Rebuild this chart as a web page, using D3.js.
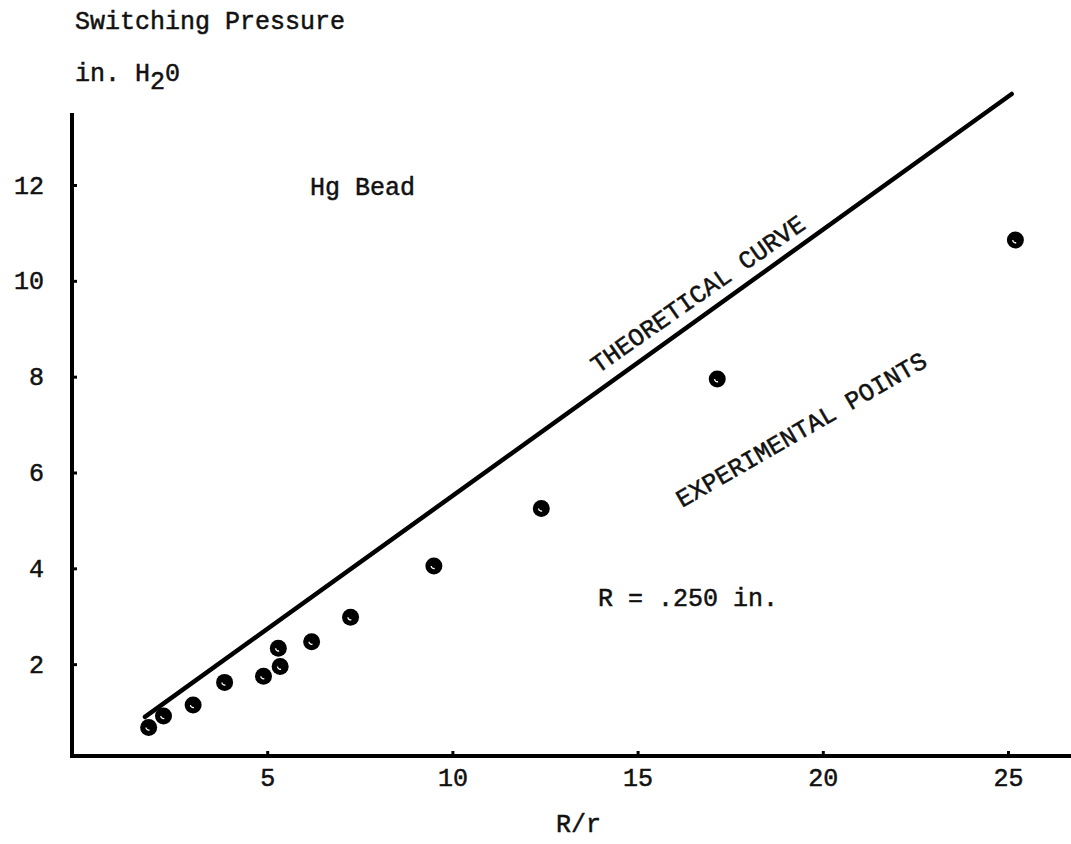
<!DOCTYPE html>
<html>
<head>
<meta charset="utf-8">
<script src="https://cdn.jsdelivr.net/npm/d3@7"></script>
<style>
  html, body { margin: 0; padding: 0; background: #fff; }
  body { width: 1071px; height: 844px; overflow: hidden; }
  text { font-family: "Liberation Mono", "DejaVu Sans Mono", monospace; fill: #111; }
</style>
</head>
<body>
<script>
const width = 1071;
const height = 844;

// experimental points
const ratioR = [1.8, 2.2, 3.0, 3.85, 4.9, 5.35, 5.3, 6.2, 7.25, 9.5, 12.4, 17.15, 25.2];
const pressure = [0.68, 0.92, 1.15, 1.62, 1.75, 1.95, 2.33, 2.47, 2.98, 4.05, 5.25, 7.95, 10.85];

// theoretical curve (straight line end points)
const theoryX = [1.7, 25.1];
const theoryY = [0.9, 13.9];

const xTicks = [5, 10, 15, 20, 25];
const yTicks = [2, 4, 6, 8, 10, 12];

const x = d3.scaleLinear().domain([0, 25]).range([82, 1008]);
const y = d3.scaleLinear().domain([0, 12]).range([760, 185]);

const axisX = 72;   // left edge of plot
const axisY = 756;  // bottom edge of plot

const svg = d3.create("svg")
  .attr("width", width)
  .attr("height", height)
  .attr("viewBox", [0, 0, width, height]);

svg.append("rect").attr("width", width).attr("height", height).attr("fill", "#fff");

// axes lines
svg.append("line")
  .attr("x1", axisX).attr("x2", axisX)
  .attr("y1", 113).attr("y2", axisY + 2)
  .attr("stroke", "#000").attr("stroke-width", 4);
svg.append("line")
  .attr("x1", axisX - 2).attr("x2", width)
  .attr("y1", axisY).attr("y2", axisY)
  .attr("stroke", "#000").attr("stroke-width", 4);

const gy = svg.append("g")
  .attr("transform", `translate(${axisX},0)`)
  .call(d3.axisLeft(y).tickValues(yTicks).tickSize(-5).tickPadding(28));
const gx = svg.append("g")
  .attr("transform", `translate(0,${axisY})`)
  .call(d3.axisBottom(x).tickValues(xTicks).tickSize(-5).tickPadding(12));

[gx, gy].forEach(g => {
  g.select(".domain").remove();
  g.selectAll(".tick line").attr("stroke", "#000").attr("stroke-width", 3);
  g.selectAll(".tick text")
    .attr("font-size", 25)
    .attr("font-family", "Liberation Mono, monospace")
    .attr("fill", "#111")
    .attr("stroke", "#111")
    .attr("stroke-width", 0.5);
});

// theoretical line
const line = d3.line().x(d => x(d[0])).y(d => y(d[1]));
svg.append("path")
  .datum(d3.zip(theoryX, theoryY))
  .attr("d", line)
  .attr("fill", "none")
  .attr("stroke", "#000")
  .attr("stroke-width", 4.5)
  .attr("stroke-linecap", "round");

// experimental points
const pts = svg.append("g")
  .selectAll("g")
  .data(d3.zip(ratioR, pressure))
  .join("g")
  .attr("transform", d => `translate(${x(d[0])},${y(d[1])})`);
pts.append("circle").attr("r", 8.5).attr("fill", "#000");
const nick = d3.arc().innerRadius(2).outerRadius(3.3).startAngle(Math.PI * 0.9).endAngle(Math.PI * 1.5);
pts.append("path").attr("d", nick()).attr("fill", "#fff");

// labels
const label = (txt, px, py, rot) => svg.append("text")
  .attr("transform", `translate(${px},${py}) rotate(${rot || 0})`)
  .attr("font-size", 25)
  .attr("stroke", "#111").attr("stroke-width", 0.5)
  .text(txt);

label("Switching Pressure", 75, 29);
const unit = label("in. H", 75, 81);
unit.append("tspan").attr("dy", 8).text("2");
unit.append("tspan").attr("dy", -8).text("0");

label("Hg Bead", 310, 195);
label("R = .250 in.", 598, 606);
label("R/r", 556, 832);
label("THEORETICAL CURVE", 598, 374, -35);
label("EXPERIMENTAL POINTS", 682, 508, -30);

document.body.appendChild(svg.node());
</script>
</body>
</html>
